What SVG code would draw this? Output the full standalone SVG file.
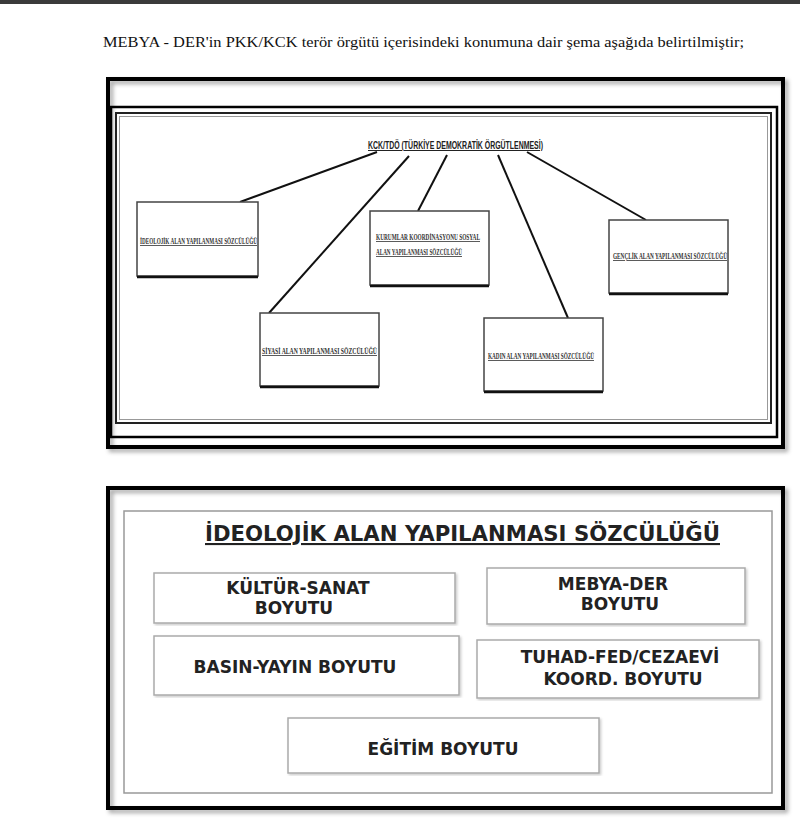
<svg xmlns="http://www.w3.org/2000/svg" width="800" height="825" viewBox="0 0 800 825">
<defs>
<filter id="sh" x="-5%" y="-5%" width="110%" height="110%">
<feDropShadow dx="3" dy="3" stdDeviation="2" flood-color="#000" flood-opacity="0.35"/>
</filter>
<filter id="sh2" x="-5%" y="-5%" width="110%" height="110%">
<feDropShadow dx="1.5" dy="1.5" stdDeviation="1" flood-color="#000" flood-opacity="0.2"/>
</filter>
</defs>
<style>
.hdr{font-family:"Liberation Serif","Times New Roman",serif;font-size:15.5px;fill:#111}
.frame{fill:none;stroke:#000}
.sbox{fill:#fff;stroke:#444;stroke-width:1.5}
.sbot{stroke:#111;stroke-width:2.5}
.slab{font-family:"Liberation Serif","Times New Roman",serif;font-weight:bold;font-size:8px;fill:#333;text-decoration:underline}
.ttl{font-family:"Liberation Sans",Arial,sans-serif;font-weight:bold;font-size:10px;fill:#222;text-decoration:underline}
.conn line{stroke:#111;stroke-width:2}
.bbox{fill:#fff;stroke:#aaa;stroke-width:1.5}
.blab{font-family:"DejaVu Sans",Verdana,sans-serif;font-weight:bold;font-size:17px;fill:#222;text-anchor:middle}
.btitle{font-family:"DejaVu Sans",Verdana,sans-serif;font-weight:bold;font-size:21px;fill:#222;text-decoration:underline}
</style>
<rect x="0" y="0" width="800" height="825" fill="#fff"/>
<rect x="0" y="0" width="800" height="4" fill="#3a3a3a"/>
<text class="hdr" x="103" y="47" textLength="641" lengthAdjust="spacingAndGlyphs">MEBYA - DER'in PKK/KCK terör örgütü içerisindeki konumuna dair şema aşağıda belirtilmiştir;</text>

<g id="top-frame">
<rect class="frame" x="108" y="79" width="675" height="368" stroke-width="4" filter="url(#sh)"/>
<rect class="frame" x="111" y="107" width="666" height="330" stroke-width="2.5"/>
<rect x="116" y="113" width="655" height="310" fill="none" stroke="#222" stroke-width="2"/>
<rect x="119.5" y="116.5" width="648" height="303" fill="none" stroke="#999" stroke-width="1"/>
</g>

<g id="conn" class="conn">
<line x1="377" y1="152" x2="240" y2="202"/>
<line x1="409" y1="156" x2="269" y2="313"/>
<line x1="447" y1="155" x2="418" y2="211"/>
<line x1="498" y1="155" x2="568" y2="318"/>
<line x1="527" y1="152" x2="646" y2="220"/>
</g>

<g id="kck-title">
<text class="ttl" x="368" y="149" textLength="175" lengthAdjust="spacingAndGlyphs">KCK/TDÖ (TÜRKİYE DEMOKRATİK ÖRGÜTLENMESİ)</text>
</g>

<g id="n-ideolojik">
<rect class="sbox" x="137" y="202" width="121" height="74"/>
<line class="sbot" x1="137" y1="277" x2="258" y2="277"/>
<text class="slab" x="140" y="244" textLength="117" lengthAdjust="spacingAndGlyphs">İDEOLOJİK ALAN YAPILANMASI SÖZCÜLÜĞÜ</text>
</g>

<g id="n-kurumlar">
<rect class="sbox" x="370" y="211" width="119" height="74"/>
<line class="sbot" x1="370" y1="286" x2="489" y2="286"/>
<text class="slab" x="376" y="240" textLength="104" lengthAdjust="spacingAndGlyphs">KURUMLAR KOORDİNASYONU SOSYAL</text>
<text class="slab" x="376" y="255" textLength="86" lengthAdjust="spacingAndGlyphs">ALAN YAPILANMASI SÖZCÜLÜĞÜ</text>
</g>

<g id="n-genclik">
<rect class="sbox" x="609" y="220" width="119" height="73"/>
<line class="sbot" x1="609" y1="294" x2="728" y2="294"/>
<text class="slab" x="613" y="259" textLength="114" lengthAdjust="spacingAndGlyphs">GENÇLİK ALAN YAPILANMASI SÖZCÜLÜĞÜ</text>
</g>

<g id="n-siyasi">
<rect class="sbox" x="260" y="313" width="119" height="73"/>
<line class="sbot" x1="260" y1="387" x2="379" y2="387"/>
<text class="slab" x="262" y="354" textLength="115" lengthAdjust="spacingAndGlyphs">SİYASİ ALAN YAPILANMASI SÖZCÜLÜĞÜ</text>
</g>

<g id="n-kadin">
<rect class="sbox" x="484" y="318" width="119" height="73"/>
<line class="sbot" x1="484" y1="392" x2="603" y2="392"/>
<text class="slab" x="488" y="359" textLength="106" lengthAdjust="spacingAndGlyphs">KADIN ALAN YAPILANMASI SÖZCÜLÜĞÜ</text>
</g>

<g id="bottom-frame">
<rect class="frame" x="108" y="488" width="675" height="320" stroke-width="4" filter="url(#sh)"/>
<rect x="124" y="511" width="648" height="282" fill="none" stroke="#999" stroke-width="1.5"/>
<text class="btitle" x="205" y="541" textLength="515" lengthAdjust="spacingAndGlyphs">İDEOLOJİK ALAN YAPILANMASI SÖZCÜLÜĞÜ</text>
</g>

<g id="b-kultur">
<rect class="bbox" x="154" y="573" width="301" height="50" filter="url(#sh2)"/>
<text class="blab" x="298" y="594">KÜLTÜR-SANAT</text>
<text class="blab" x="294" y="614">BOYUTU</text>
</g>

<g id="b-mebya">
<rect class="bbox" x="487" y="568" width="258" height="56" filter="url(#sh2)"/>
<text class="blab" x="613" y="590">MEBYA-DER</text>
<text class="blab" x="620" y="610">BOYUTU</text>
</g>

<g id="b-basin">
<rect class="bbox" x="154" y="636" width="305" height="59" filter="url(#sh2)"/>
<text class="blab" x="295" y="673">BASIN-YAYIN BOYUTU</text>
</g>

<g id="b-tuhad">
<rect class="bbox" x="477" y="640" width="282" height="58" filter="url(#sh2)"/>
<text class="blab" x="620" y="663">TUHAD-FED/CEZAEVİ</text>
<text class="blab" x="623" y="685">KOORD. BOYUTU</text>
</g>

<g id="b-egitim">
<rect class="bbox" x="288" y="718" width="311" height="55" filter="url(#sh2)"/>
<text class="blab" x="443" y="755">EĞİTİM BOYUTU</text>
</g>
</svg>
